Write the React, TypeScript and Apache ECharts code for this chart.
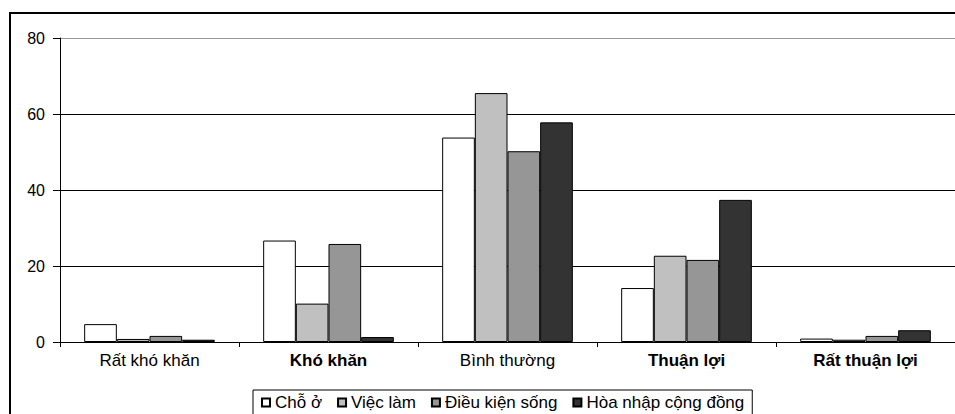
import React, { useEffect, useRef } from "react";
import * as echarts from "echarts";

const categories = ["Rất khó khăn", "Khó khăn", "Bình thường", "Thuận lợi", "Rất thuận lợi"];
const boldCategories = ["Khó khăn", "Thuận lợi", "Rất thuận lợi"];
const seriesNames = ["Chỗ ở", "Việc làm", "Điều kiện sống", "Hòa nhập cộng đồng"];
const choO = [4.7, 26.7, 53.8, 14.2, 0.9];
const viecLam = [0.8, 10.1, 65.5, 22.7, 0.6];
const dieuKienSong = [1.6, 25.8, 50.2, 21.6, 1.6];
const hoaNhap = [0.6, 1.3, 57.8, 37.4, 3.1];
const seriesColors = ["#ffffff", "#c0c0c0", "#969696", "#333333"];

const FONT = "'Liberation Sans', Arial, sans-serif";

export default function App() {
  const ref = useRef<HTMLDivElement>(null);
  useEffect(() => {
    if (!ref.current) return;
    const chart = echarts.init(ref.current, null, { renderer: "svg" });
    const data = [choO, viecLam, dieuKienSong, hoaNhap];
    chart.setOption({
      animation: false,
      backgroundColor: "#ffffff",
      textStyle: { fontFamily: FONT },
      grid: { left: 60, right: -1, top: 38, bottom: 72, containLabel: false },
      legend: {
        left: 253,
        top: 390,
        data: seriesNames,
        icon: "rect",
        itemWidth: 8,
        itemHeight: 8,
        itemGap: 15,
        padding: [4, 8, 14, 8],
        borderColor: "#000",
        borderWidth: 1,
        textStyle: { fontFamily: FONT, fontSize: 17, color: "#000" },
      },
      xAxis: {
        type: "category",
        data: categories,
        axisLine: { lineStyle: { color: "#000", width: 1 } },
        axisTick: { show: true, length: 5, lineStyle: { color: "#000" }, alignWithLabel: false },
        axisLabel: {
          margin: 10,
          color: "#000",
          fontFamily: FONT,
          fontSize: 17,
          formatter: (v: string) => (boldCategories.includes(v) ? `{b|${v}}` : `{n|${v}}`),
          rich: {
            b: { fontWeight: "bold", fontSize: 17, fontFamily: FONT, color: "#000" },
            n: { fontWeight: "normal", fontSize: 17, fontFamily: FONT, color: "#000" },
          },
        },
      },
      yAxis: {
        type: "value",
        min: 0,
        max: 80,
        interval: 20,
        axisLine: { show: true, lineStyle: { color: "#000", width: 1 } },
        axisTick: { show: true, length: 7, lineStyle: { color: "#000" } },
        axisLabel: { margin: 15, color: "#000", fontFamily: FONT, fontSize: 16 },
        splitLine: {
          show: true,
          lineStyle: { color: ["#000", "#000", "#000", "#000", "#999999"], width: 1 },
        },
      },
      graphic: [
        {
          type: "rect",
          shape: { x: 10, y: 13, width: 1000, height: 600 },
          style: { fill: "none", stroke: "#000", lineWidth: 2 },
          silent: true,
          z: 100,
        },
      ],
      series: seriesNames.map((name, i) => ({
        name,
        type: "bar",
        data: data[i],
        barGap: "0%",
        barCategoryGap: "27%",
        itemStyle: { color: seriesColors[i], borderColor: "#000", borderWidth: 1 },
      })),
    });
    return () => chart.dispose();
  }, []);
  return (
    <div
      ref={ref}
      style={{ position: "absolute", left: 0, top: 0, width: 955, height: 414, overflow: "hidden" }}
    />
  );
}
